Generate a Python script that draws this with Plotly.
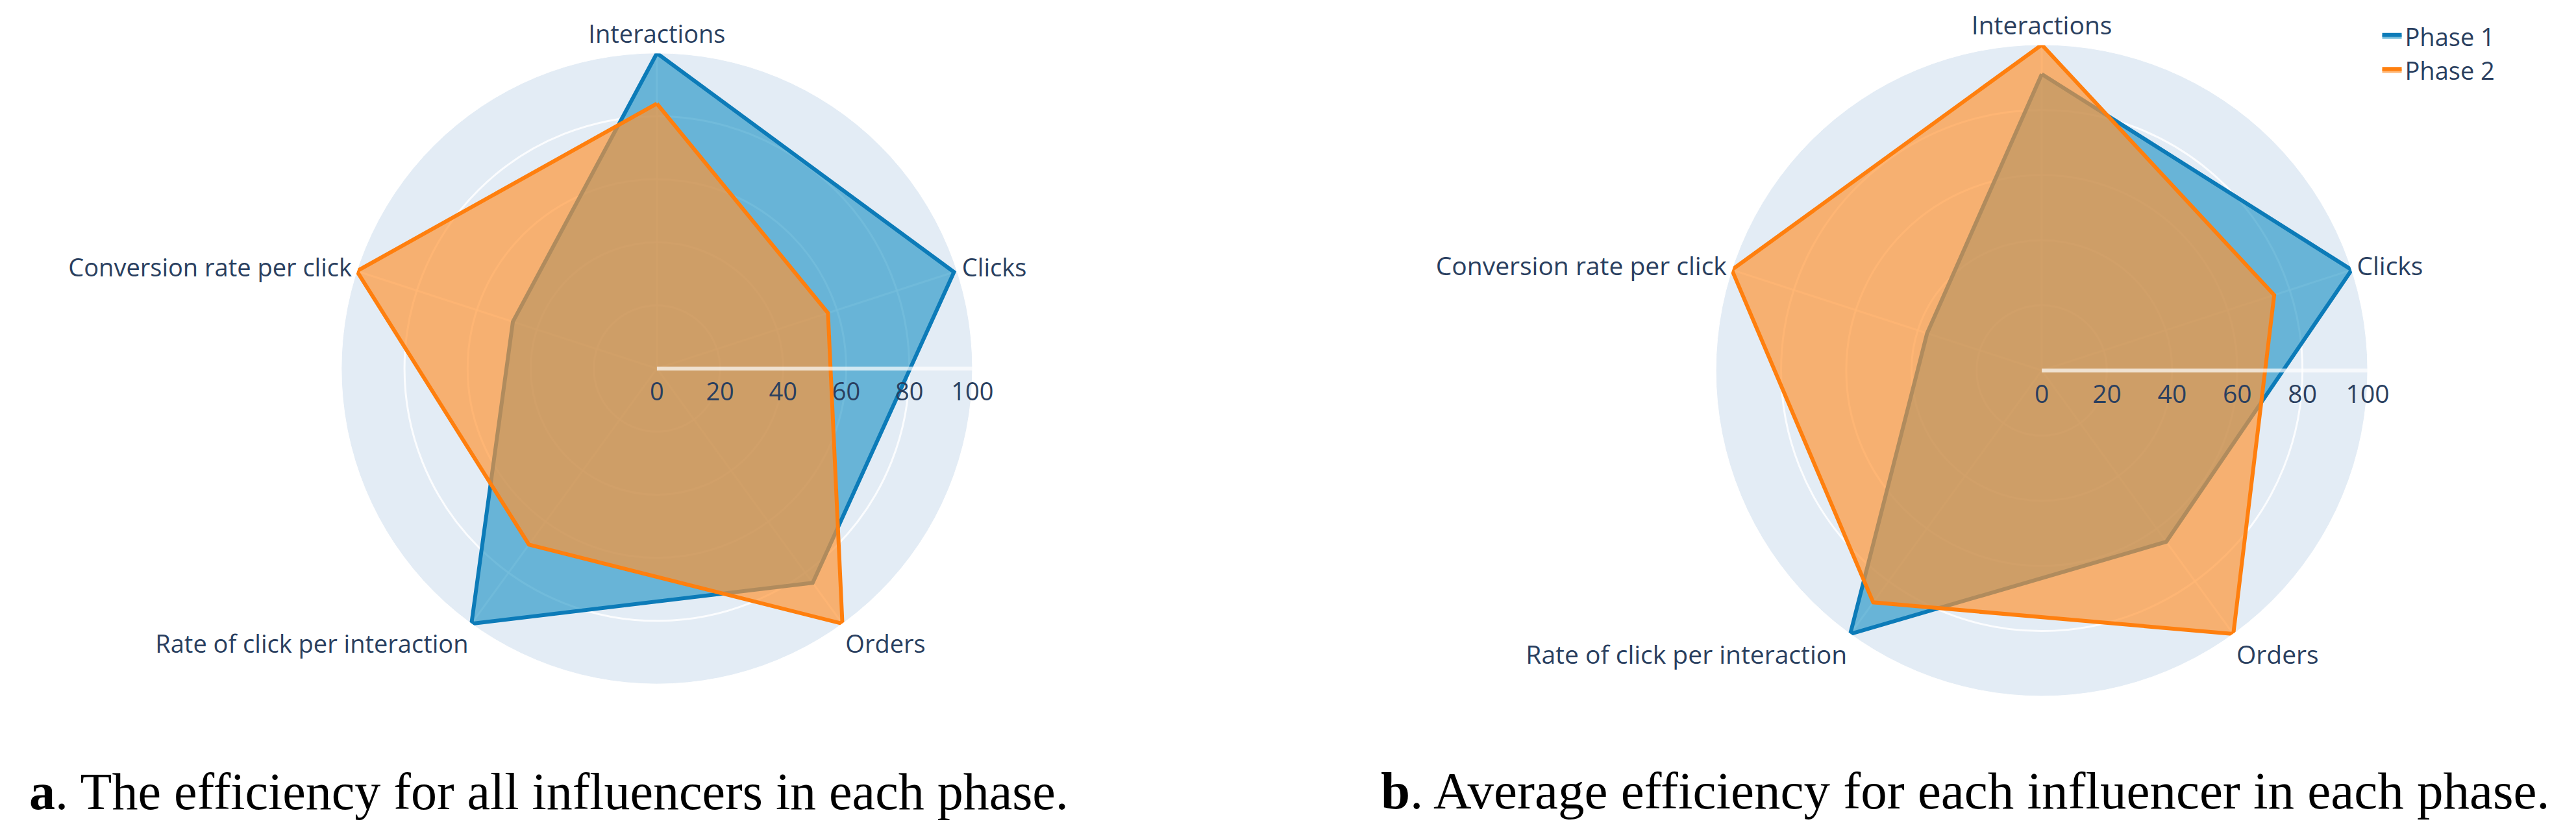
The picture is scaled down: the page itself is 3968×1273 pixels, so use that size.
import plotly.graph_objects as go


CATEGORIAS = [
    "Interactions",
    "Clicks",
    "Orders",
    "Rate of click per interaction",
    "Conversion rate per click",
]

# Panel a: eficiencia de todos los influencers.
A_FASE_1 = [100, 99, 84, 100, 48]
A_FASE_2 = [84, 57, 100, 69, 100]

# Panel b: eficiencia promedio por influencer.
B_FASE_1 = [91, 100, 65, 100, 37]
B_FASE_2 = [100, 75, 100, 88, 100]

RADIAL_TICKS = [0, 20, 40, 60, 80, 100]

AZUL = "#0C7BB8"
AZUL_RELLENO = "rgba(22, 143, 195, 0.6)"
NARANJA = "#FF7F0E"
NARANJA_RELLENO = "rgba(255, 148, 50, 0.68)"


def cerrar(valores):
    # Repetimos el primer punto para que la línea cierre el polígono.
    return list(valores) + [valores[0]]


def agregar_trazas(fig, fase_1, fase_2, polar, leyenda):
    fig.add_trace(
        go.Scatterpolar(
            r=cerrar(fase_1),
            theta=cerrar(CATEGORIAS),
            name="Phase 1",
            fill="toself",
            fillcolor=AZUL_RELLENO,
            line_color=AZUL,
            line_width=6,
            mode="lines",
            subplot=polar,
            showlegend=leyenda,
        )
    )

    fig.add_trace(
        go.Scatterpolar(
            r=cerrar(fase_2),
            theta=cerrar(CATEGORIAS),
            name="Phase 2",
            fill="toself",
            fillcolor=NARANJA_RELLENO,
            line_color=NARANJA,
            line_width=6,
            mode="lines",
            subplot=polar,
            showlegend=leyenda,
        )
    )


def estilo_polar(dominio_x, dominio_y, tamano):
    return dict(
        domain=dict(x=dominio_x, y=dominio_y),
        bgcolor="#E3ECF5",
        radialaxis=dict(
            range=[0, 100],
            tickvals=RADIAL_TICKS,
            angle=0,
            gridcolor="rgba(255,255,255,0.85)",
            gridwidth=3,
            linecolor="rgba(255,255,255,0.7)",
            linewidth=6,
            tickfont=dict(size=tamano, color="#2A3F5F"),
        ),
        angularaxis=dict(
            rotation=90,
            direction="clockwise",
            gridcolor="rgba(255,255,255,0.7)",
            gridwidth=3,
            linecolor="white",
            tickfont=dict(size=tamano, color="#2A3F5F"),
        ),
    )


def main():
    fig = go.Figure()

    agregar_trazas(fig, A_FASE_1, A_FASE_2, "polar", False)
    agregar_trazas(fig, B_FASE_1, B_FASE_2, "polar2", True)

    fig.update_layout(
        width=3968,
        height=1273,
        margin=dict(l=0, r=0, t=0, b=0),
        paper_bgcolor="white",
        font_family="Open Sans",
        font_color="#2A3F5F",
        polar=estilo_polar([0.1305, 0.3755], [0.1783, 0.9419], 38),
        polar2=estilo_polar([0.6641, 0.9171], [0.1634, 0.9521], 39),
        showlegend=True,
        legend=dict(
            x=0.9215,
            y=0.987,
            xanchor="left",
            yanchor="top",
            font_size=38,
            bgcolor="rgba(0,0,0,0)",
        ),
        annotations=[
            dict(
                x=35 / 3968,
                y=1 - 1258 / 1273,
                xref="paper",
                yref="paper",
                xanchor="left",
                yanchor="bottom",
                showarrow=False,
                text="<b>a</b>. The efficiency for all influencers in each phase.",
                font=dict(family="Liberation Serif", size=80, color="black"),
            ),
            dict(
                x=2117 / 3968,
                y=1 - 1258 / 1273,
                xref="paper",
                yref="paper",
                xanchor="left",
                yanchor="bottom",
                showarrow=False,
                text="<b>b</b>. Average efficiency for each influencer in each phase.",
                font=dict(family="Liberation Serif", size=81, color="black"),
            ),
        ],
    )

    fig.write_html("out.html")


if __name__ == "__main__":
    main()
